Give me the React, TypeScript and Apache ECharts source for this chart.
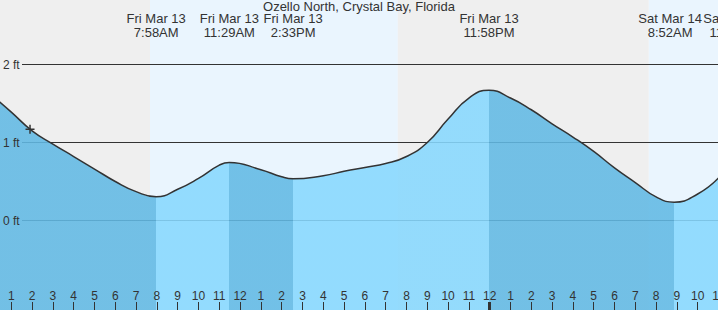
import React, { useEffect, useRef } from 'react';
import * as echarts from 'echarts';

const TITLE = 'Ozello North, Crystal Bay, Florida';

// hours since Fri Mar 13, 00:00
const tideTimes = [0, 1, 2, 3, 4, 5, 6, 7, 7.967, 9, 10, 11, 11.483, 13, 14, 14.55, 16, 17, 18, 19, 20, 21, 22, 23, 23.967, 25, 26, 27, 28, 29, 30, 31, 32, 32.867, 34, 35];
// feet
const tideHeights = [1.62, 1.39, 1.15, 0.98, 0.82, 0.66, 0.5, 0.37, 0.305, 0.4, 0.54, 0.71, 0.745, 0.65, 0.56, 0.535, 0.575, 0.63, 0.68, 0.73, 0.82, 1.0, 1.3, 1.57, 1.67, 1.57, 1.42, 1.24, 1.07, 0.885, 0.675, 0.487, 0.303, 0.235, 0.34, 0.545];

const extremeTimes = [7.967, 11.483, 14.55, 23.967, 32.867, 35.8];
const extremeTypes = ['low', 'high', 'low', 'high', 'low', 'high'];
const extremeDays = ['Fri Mar 13', 'Fri Mar 13', 'Fri Mar 13', 'Fri Mar 13', 'Sat Mar 14', 'Sat Mar 14'];
const extremeClocks = ['7:58AM', '11:29AM', '2:33PM', '11:58PM', '8:52AM', '11:48AM'];

// sunrise, sunset, sunrise (hours since Fri 00:00)
const sunTimes = [7.667, 19.583, 31.65];
const bandKinds = ['night', 'day', 'night', 'day'];

const gridLevels = [0, 1, 2];
const nowTime = 1.9;
const nowHeight = 1.17;

const FONT = '"Liberation Sans", Arial, Helvetica, sans-serif';
const DARK = '#61b9e4';
const LIGHT = '#87d8fe';
const NIGHT = '#efefef';
const DAY = '#eaf5fe';
const INK = '#333';

const X_MIN = 0;
const X_MAX = 37;
const PX_PER_HOUR = 20.8;
const PX_PER_FT = 78;
const Y_MIN = -89.5 / PX_PER_FT;
const Y_MAX = 220.5 / PX_PER_FT;
const GRID_LEFT = -9.5;
const GRID_RIGHT = 718 - (GRID_LEFT + (X_MAX - X_MIN) * PX_PER_HOUR);
const LINE_START = (22 - GRID_LEFT) / PX_PER_HOUR;

export default function App() {
  const ref = useRef<HTMLDivElement>(null);

  useEffect(() => {
    if (!ref.current) return;
    const chart = echarts.init(ref.current, null, { renderer: 'svg' });
    const tide = tideTimes.map((t, i) => [t, tideHeights[i]]);

    const pieces: any[] = [];
    extremeTimes.forEach((t, i) => {
      const color = extremeTypes[i] === 'low' ? DARK : LIGHT;
      if (i === 0) pieces.push({ lt: t, color });
      else pieces.push({ gte: extremeTimes[i - 1], lt: t, color });
    });
    const lastType = extremeTypes[extremeTypes.length - 1];
    pieces.push({ gte: extremeTimes[extremeTimes.length - 1], color: lastType === 'low' ? LIGHT : DARK });

    const edges = [X_MIN, ...sunTimes, X_MAX];
    const bands = bandKinds.map((k, i) => [
      { xAxis: edges[i], itemStyle: { color: k === 'day' ? DAY : NIGHT, opacity: 1 } },
      { xAxis: edges[i + 1] },
    ]);

    const option: any = {
      animation: false,
      title: {
        text: TITLE,
        left: 'center',
        top: 0,
        padding: 0,
        textStyle: { fontSize: 13, fontWeight: 'normal', color: INK, fontFamily: FONT },
      },
      grid: { left: GRID_LEFT, right: GRID_RIGHT, top: 0, bottom: 0, containLabel: false, outerBoundsMode: 'none' },
      xAxis: [
        {
          type: 'value',
          min: X_MIN,
          max: X_MAX,
          interval: 1,
          position: 'bottom',
          z: 10,
          axisLine: { show: false, onZero: false },
          splitLine: { show: false },
          axisTick: { show: true, inside: true, length: 8, lineStyle: { color: INK, width: 1 } },
          axisLabel: {
            show: true,
            inside: true,
            margin: 8,
            color: INK,
            fontSize: 12,
            fontFamily: FONT,
            formatter: (v: number) => String((Math.round(v) % 12) || 12),
          },
        },
        {
          type: 'value',
          min: X_MIN,
          max: X_MAX,
          interval: 24,
          position: 'bottom',
          z: 10,
          axisLine: { show: false, onZero: false },
          splitLine: { show: false },
          axisLabel: { show: false },
          axisTick: { show: true, inside: true, length: 8, lineStyle: { color: INK, width: 3 } },
        },
      ],
      yAxis: {
        type: 'value',
        min: Y_MIN,
        max: Y_MAX,
        z: 10,
        axisLine: { show: false, onZero: false },
        axisTick: { show: false },
        splitLine: { show: false },
        axisLabel: {
          inside: true,
          margin: 12.5,
          color: INK,
          fontSize: 12,
          fontFamily: FONT,
          showMinLabel: false,
          showMaxLabel: false,
          formatter: (v: number) =>
            v >= 0 && Math.abs(v - Math.round(v)) < 1e-6 ? `${Math.round(v)} ft` : '',
        },
      },
      visualMap: {
        type: 'piecewise',
        show: false,
        dimension: 0,
        seriesIndex: 2,
        pieces,
      },
      series: [
        {
          type: 'line',
          z: 0,
          data: tide,
          symbol: 'none',
          silent: true,
          lineStyle: { opacity: 0 },
          markArea: { silent: true, z: 0, data: bands },
        },
        {
          type: 'line',
          z: 1,
          data: tide,
          symbol: 'none',
          silent: true,
          lineStyle: { opacity: 0 },
          markLine: {
            silent: true,
            z: 1,
            symbol: ['none', 'none'],
            label: { show: false },
            lineStyle: { color: INK, width: 1, type: 'solid' },
            data: gridLevels.map((v) => [{ coord: [LINE_START, v] }, { coord: [X_MAX, v] }]),
          },
        },
        {
          type: 'line',
          z: 2,
          data: tide,
          smooth: 0.5,
          symbol: 'none',
          silent: true,
          lineStyle: { width: 0 },
          areaStyle: { opacity: 0.88, origin: 'start' },
        },
        {
          type: 'line',
          z: 3,
          data: tide,
          smooth: 0.5,
          symbol: 'none',
          silent: true,
          lineStyle: { color: INK, width: 1.5 },
          itemStyle: { color: INK },
          markPoint: {
            silent: true,
            z: 6,
            symbol: 'rect',
            symbolSize: 1,
            itemStyle: { color: 'transparent' },
            label: {
              show: true,
              position: 'inside',
              formatter: '{b}',
              color: INK,
              fontSize: 13,
              lineHeight: 13.5,
              fontFamily: FONT,
              align: 'center',
              verticalAlign: 'middle',
            },
            data: extremeTimes.map((t, i) => ({
              name: `${extremeDays[i]}\n${extremeClocks[i]}`,
              coord: [t, 0],
              y: 25.5,
              label: i === 4 ? { offset: [-4, 0] } : undefined,
            })),
          },
        },
        {
          type: 'scatter',
          z: 4,
          silent: true,
          data: [[nowTime, nowHeight]],
          symbol: 'path://M0,5L10,5M5,0L5,10',
          symbolSize: 9,
          itemStyle: { color: 'transparent', borderColor: INK, borderWidth: 1.5, opacity: 1 },
        },
      ],
    };

    chart.setOption(option);
    return () => chart.dispose();
  }, []);

  return (
    <div
      ref={ref}
      style={{ position: 'fixed', left: 0, top: 0, width: 718, height: 310, background: '#fff' }}
    />
  );
}
